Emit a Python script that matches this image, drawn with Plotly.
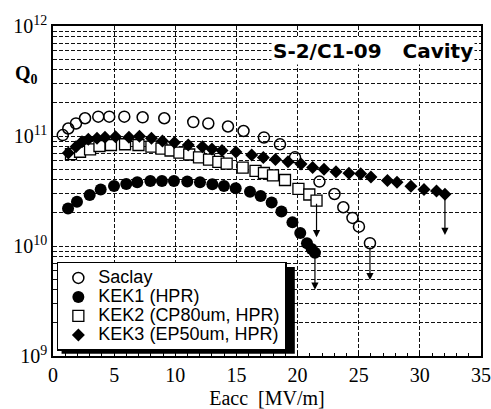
import math
import plotly.graph_objects as go

# ---------------- data ----------------
saclay_E = [0.8, 1.25, 1.88, 2.62, 3.70, 4.60, 5.83, 7.33, 9.10, 11.47, 12.70, 14.31, 15.58,
            17.25, 18.56, 19.79, 21.79, 23.02, 23.74, 24.49, 25.02, 25.92]
saclay_Q = [1.02e11, 1.17e11, 1.30e11, 1.45e11, 1.50e11, 1.50e11, 1.50e11, 1.48e11, 1.45e11,
            1.34e11, 1.30e11, 1.22e11, 1.11e11, 9.7e10, 8.4e10, 6.4e10, 3.85e10, 2.97e10,
            2.25e10, 1.80e10, 1.50e10, 1.06e10]

kek1_E = [1.23, 1.96, 3.0, 3.90, 4.99, 5.99, 6.89, 7.96, 8.91, 9.89, 10.98, 12.02, 13.03, 13.98,
          14.94, 16.11, 16.98, 17.88, 18.68, 19.58, 20.22, 20.77, 21.15, 21.42]
kek1_Q = [2.19e10, 2.53e10, 2.91e10, 3.27e10, 3.51e10, 3.66e10, 3.79e10, 3.90e10, 3.90e10,
          3.90e10, 3.85e10, 3.79e10, 3.64e10, 3.51e10, 3.35e10, 3.12e10, 2.85e10, 2.48e10,
          2.06e10, 1.64e10, 1.31e10, 1.06e10, 9.4e9, 8.7e9]

kek2_E = [1.47, 2.21, 3.03, 3.80, 4.74, 5.89, 6.99, 8.05, 8.87, 9.61, 10.34, 11.14, 11.94, 12.76,
          13.52, 14.20, 15.51, 16.56, 17.25, 17.99, 18.97, 20.07, 20.96, 21.55]
kek2_Q = [6.85e10, 7.19e10, 7.57e10, 8.11e10, 8.28e10, 8.41e10, 8.28e10, 8.0e10, 7.69e10,
          7.38e10, 7.05e10, 6.79e10, 6.40e10, 6.11e10, 5.83e10, 5.62e10, 5.15e10, 4.81e10,
          4.61e10, 4.38e10, 3.98e10, 3.31e10, 2.94e10, 2.59e10]

kek3_E = [1.25, 1.88, 2.37, 2.89, 3.60, 4.25, 5.11, 6.21, 7.07, 8.05, 8.95, 9.93, 11.06, 12.22,
          13.0, 13.82, 14.96, 16.25, 17.20, 18.19, 19.22, 20.28, 21.23, 22.16, 23.14, 24.20,
          25.16, 26.0, 27.35, 28.13, 29.27, 30.34, 31.36, 32.05]
kek3_Q = [7.0e10, 8.0e10, 8.87e10, 9.33e10, 9.53e10, 9.73e10, 9.86e10, 9.73e10, 9.93e10,
          9.53e10, 9.02e10, 8.73e10, 8.28e10, 8.0e10, 7.62e10, 7.38e10, 7.16e10, 6.71e10,
          6.38e10, 6.11e10, 5.83e10, 5.56e10, 5.18e10, 4.98e10, 4.73e10, 4.58e10, 4.54e10,
          4.24e10, 3.93e10, 3.79e10, 3.49e10, 3.27e10, 3.16e10, 2.95e10]

# downward arrows (limit): x, start Q, end Q
arrow_E = [21.42, 21.55, 25.92, 32.05]
arrow_Q0 = [8.4e9, 2.5e10, 1.0e10, 2.85e10]
arrow_Q1 = [4.0e9, 1.2e10, 4.9e9, 1.26e10]

names = ["Saclay", "KEK1 (HPR)", "KEK2 (CP80um, HPR)", "KEK3 (EP50um, HPR)"]

y_tickvals = [1e9, 1e10, 1e11, 1e12]
y_ticktext = ["10<sup>9</sup>", "10<sup>10</sup>", "10<sup>11</sup>", "10<sup>12</sup>"]
x_tickvals = [0, 5, 10, 15, 20, 25, 30, 35]


def big(t):
    return '<span style="font-size:18px">' + t.replace(" ", "\u00a0") + "</span>"


# ---------------- figure ----------------
fig = go.Figure()
fig.add_trace(go.Scatter(x=saclay_E, y=saclay_Q, mode="markers", name=big(names[0]),
                         marker=dict(symbol="circle-open", size=11, color="black",
                                     line=dict(width=1.5, color="black"))))
fig.add_trace(go.Scatter(x=kek1_E, y=kek1_Q, mode="markers", name=big(names[1]),
                         marker=dict(symbol="circle", size=12, color="black")))
fig.add_trace(go.Scatter(x=kek2_E, y=kek2_Q, mode="markers", name=big(names[2]),
                         marker=dict(symbol="square", size=11, color="white",
                                     line=dict(width=1.3, color="black"))))
fig.add_trace(go.Scatter(x=kek3_E, y=kek3_Q, mode="markers", name=big(names[3]),
                         marker=dict(symbol="diamond", size=10, color="black")))

for e, q0, q1 in zip(arrow_E, arrow_Q0, arrow_Q1):
    fig.add_annotation(x=e, y=math.log10(q1), ax=e, ay=math.log10(q0), xref="x", yref="y",
                       axref="x", ayref="y", showarrow=True, arrowhead=2, arrowsize=1.2,
                       arrowwidth=1.2, arrowcolor="black", text="")

grid = dict(gridcolor="#111", gridwidth=1, griddash="4px,2px")

fig.update_xaxes(range=[0, 35], tickvals=x_tickvals, showline=True, linecolor="black",
                 linewidth=1.5, mirror=True, ticks="inside", ticklen=5, tickcolor="black",
                 showgrid=True, **grid, zeroline=False, automargin=False,
                 minor=dict(dtick=1, ticks="inside", ticklen=3, tickcolor="black", showgrid=False),
                 tickfont=dict(family="Liberation Serif", size=20, color="black"),
                 title=dict(text="Eacc\u00a0\u00a0[MV/m]", standoff=6,
                            font=dict(family="Liberation Serif", size=20, color="black")))
fig.update_yaxes(type="log", range=[9, 12], tickvals=y_tickvals, ticktext=y_ticktext,
                 showline=True, linecolor="black", linewidth=1.5, mirror=True, automargin=False,
                 ticks="", showgrid=True, **grid, zeroline=False,
                 minor=dict(dtick="D1", showgrid=True, **grid, ticks=""),
                 tickfont=dict(family="Liberation Serif", size=20, color="black"))

# legend drop shadow
fig.add_shape(type="rect", xref="paper", yref="paper", x0=0.02, x1=0.565, y0=0.007, y1=0.27,
              fillcolor="black", line=dict(width=0), layer="above")

fig.add_annotation(text="<b>S-2/C1-09\u00a0\u00a0\u00a0Cavity</b>", xref="paper", yref="paper",
                   x=0.985, y=0.925, xanchor="right", yanchor="middle", showarrow=False,
                   bgcolor="white", font=dict(family="DejaVu Sans", size=20, color="black"))
fig.add_annotation(text="<b>Q<sub>0</sub></b>", xref="paper", yref="paper", x=-0.03, y=0.852,
                   xanchor="right", yanchor="middle", showarrow=False,
                   font=dict(family="Liberation Serif", size=20, color="black"))

fig.update_layout(
    width=491, height=409, margin=dict(l=53, r=10, t=26, b=53),
    plot_bgcolor="white", paper_bgcolor="white", showlegend=True,
    legend=dict(x=0.009, y=0.285, xanchor="left", yanchor="top", bgcolor="white",
                bordercolor="black", borderwidth=1.5, tracegroupgap=0, itemsizing="trace",
                font=dict(family="Liberation Sans", size=12, color="black")),
)

fig.write_html("out.html")
